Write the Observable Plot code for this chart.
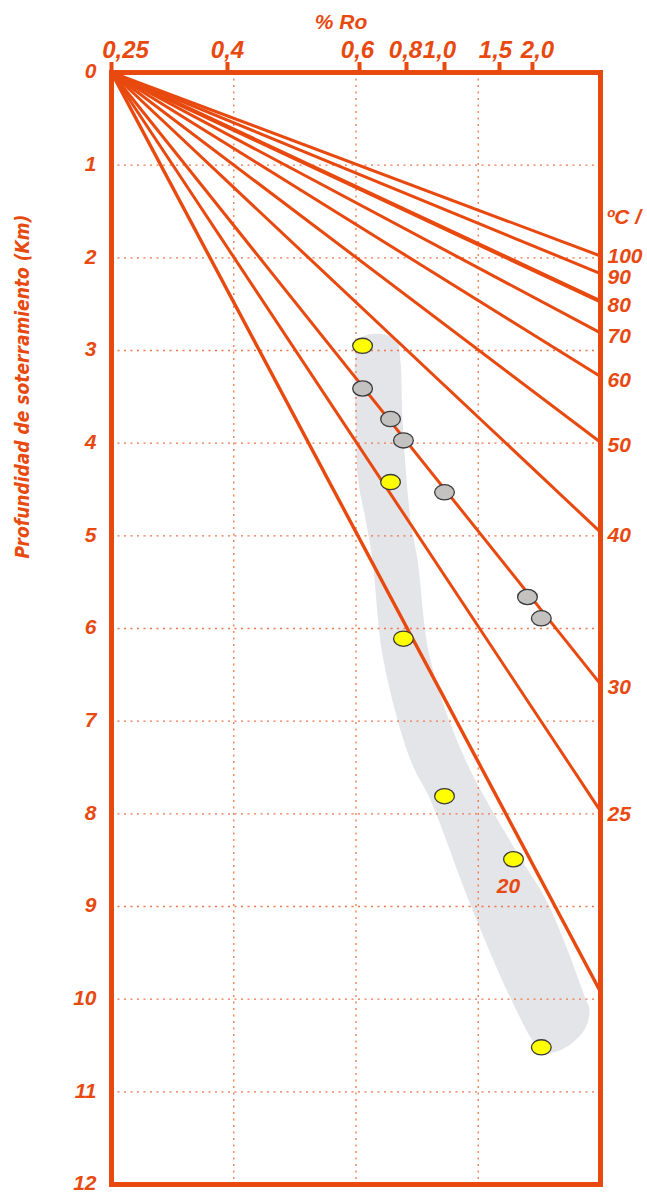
<!DOCTYPE html>
<html><head><meta charset="utf-8">
<script src="https://cdn.jsdelivr.net/npm/d3@7"></script>
<script src="https://cdn.jsdelivr.net/npm/@observablehq/plot@0.6"></script>
<style>body{margin:0;background:#fff} svg{display:block}</style>
</head><body><div id="chart"></div>
<script>
// ---- data ----
const roTicks = [0.25, 0.4, 0.6, 0.8, 1.0, 1.5, 2.0];
const roTickLabels = ["0,25", "0,4", "0,6", "0,8", "1,0", "1,5", "2,0"];
const roMax = 3.0;
const depthTicks = [0,1,2,3,4,5,6,7,8,9,10,11,12];
const isoTemps    = [100, 90, 80, 70, 60, 50, 40, 30, 25, 20];
const isoEndDepth = [1.98, 2.17, 2.47, 2.81, 3.28, 3.99, 4.96, 6.60, 7.97, 9.92];
const label20Ro = 1.636, label20Depth = 8.78;
const unitLabelDepth = 1.56;
const sampleRo    = [0.613, 0.613, 0.732, 0.787, 0.732, 1.0, 1.924, 2.13, 0.787, 1.0, 1.712, 2.13];
const sampleDepth = [2.95, 3.41, 3.74, 3.97, 4.42, 4.53, 5.66, 5.89, 6.11, 7.81, 8.49, 10.52];
const sampleKind  = ["y","g","g","g","y","g","g","g","y","y","y","y"];
const bandRo    = [0.681,0.604,0.594,0.594,0.598,0.626,0.655,0.702,0.821,0.926,1.236,1.667,2.044,2.147,2.338,2.588,2.779,2.838,2.779,2.235,1.742,1.191,0.926,0.858,0.821,0.783,0.774,0.757];
const bandDepth = [2.82,2.87,3.05,3.75,4.40,4.83,5.26,6.34,7.42,7.85,8.98,9.99,10.50,10.58,10.57,10.47,10.31,10.12,9.99,8.98,8.39,7.42,6.34,5.26,4.83,3.75,3.11,2.89];

// ---- tables ----
const isotherms = isoTemps.map((t, i) => ({t, depth: isoEndDepth[i]}));
const samples = sampleRo.map((ro, i) => ({ro, depth: sampleDepth[i], kind: sampleKind[i]}));
const band = bandRo.map((ro, i) => ({ro, depth: bandDepth[i]}));
const topTicks = roTicks.map((v, i) => ({v, label: roTickLabels[i]}));

// ---- layout ----
const W = 647, H = 1192, mL = 111, mR = 47, mT = 72, mB = 8;
const O = "#e8490f", GRID = "#ef7448";
const xFrac = [0, 0.2372, 0.5072, 0.6033, 0.6810, 0.7935, 0.8609, 1];
const xDomain = [...roTicks, roMax];
const xRange = xFrac.map(f => mL + f * (W - mL - mR));
const xs = Plot.scale({x: {type: "linear", domain: xDomain, range: xRange}});
const gridRo = [1, 2, 3].map(k => xs.invert(mL + k * (W - mL - mR) / 4));
const tickLabelShift = [14, 0, -2, -1, -5, -4, 5];

const ellipse = {
  draw(ctx, size) {
    const r = Math.sqrt(size / Math.PI), rx = r * 1.3, ry = r, k = 0.5523;
    ctx.moveTo(rx, 0);
    ctx.bezierCurveTo(rx, ry * k, rx * k, ry, 0, ry);
    ctx.bezierCurveTo(-rx * k, ry, -rx, ry * k, -rx, 0);
    ctx.bezierCurveTo(-rx, -ry * k, -rx * k, -ry, 0, -ry);
    ctx.bezierCurveTo(rx * k, -ry, rx, -ry * k, rx, 0);
    ctx.closePath();
  }
};

const font = "'Liberation Sans', Arial, sans-serif";
const chart = Plot.plot({
  width: W, height: H,
  marginLeft: mL, marginRight: mR, marginTop: mT, marginBottom: mB,
  x: {type: "linear", domain: xDomain, range: xRange, axis: null},
  y: {domain: [0, 12], reverse: true, axis: null},
  style: {fontFamily: font, fontWeight: "bold", fontStyle: "italic", background: "#fff", overflow: "visible"},
  marks: [
    Plot.line(band, {x: "ro", y: "depth", curve: "catmull-rom-closed", fill: "#e4e5e9", stroke: "none"}),
    Plot.ruleY(depthTicks.slice(1, 12), {y: d => d, stroke: GRID, strokeWidth: 1.3, strokeDasharray: "2,4.5"}),
    Plot.ruleX(gridRo, {x: d => d, stroke: GRID, strokeWidth: 1.3, strokeDasharray: "2,4.5"}),
    Plot.link(isotherms, {x1: () => 0.25, y1: () => 0, x2: () => roMax, y2: "depth", stroke: O,
      strokeWidth: d => (d.t === 80 ? 4.2 : d.t === 20 ? 3.4 : 3)}),
    Plot.frame({stroke: O, strokeWidth: 5}),
    Plot.ruleX(roTicks, {x: d => d, y1: () => 0, y2: () => 0, insetTop: -10, stroke: O, strokeWidth: 4}),
    Plot.dot(samples.filter(d => d.kind === "g"), {x: "ro", y: "depth", r: 7.6, symbol: ellipse, fill: "#c3c2c1", stroke: "#3a3a3a", strokeWidth: 1.3}),
    Plot.dot(samples.filter(d => d.kind === "y"), {x: "ro", y: "depth", r: 7.6, symbol: ellipse, fill: "#ffff00", stroke: "#3a3a3a", strokeWidth: 1.3}),
    // top tick labels
    ...topTicks.map((t, i) => Plot.text([t], {x: "v", y: () => 0, text: "label", dx: tickLabelShift[i], dy: -22, fontSize: 24, fill: O})),
    // depth labels
    Plot.text(depthTicks, {x: () => 0.25, y: d => d, text: d => String(d), textAnchor: "end", dx: -15, dy: -1, fontSize: 21, fill: O}),
    // isotherm labels
    Plot.text(isotherms.filter(d => d.t === 100), {x: () => roMax, y: "depth", text: d => String(d.t), textAnchor: "start", dx: 7, dy: 0, fontSize: 21, fill: O}),
    Plot.text(isotherms.filter(d => d.t !== 20 && d.t !== 100), {x: () => roMax, y: "depth", text: d => String(d.t), textAnchor: "start", dx: 7, dy: 3.5, fontSize: 21, fill: O}),
    Plot.text([{ro: label20Ro, depth: label20Depth}], {x: "ro", y: "depth", text: () => "20", fontSize: 21, fill: O}),
    Plot.text([{ro: roMax, depth: unitLabelDepth}], {x: "ro", y: "depth", text: () => "ºC /", textAnchor: "start", dx: 6, fontSize: 21, fill: O}),
    // titles
    Plot.text(["% Ro"], {frameAnchor: "top", text: d => d, lineAnchor: "middle", textAnchor: "middle", dx: -15, dy: -50, fontSize: 21, fill: O}),
    Plot.text(["Profundidad de soterramiento (Km)"], {frameAnchor: "top-left", text: d => d, rotate: -90, textAnchor: "middle", lineAnchor: "middle",
      dx: -89, dy: 314, fontSize: 19, fill: O, fontFamily: "'Liberation Sans Narrow', 'DejaVu Sans Condensed', sans-serif"})
  ]
});
document.getElementById("chart").appendChild(chart);
</script>
</body></html>
